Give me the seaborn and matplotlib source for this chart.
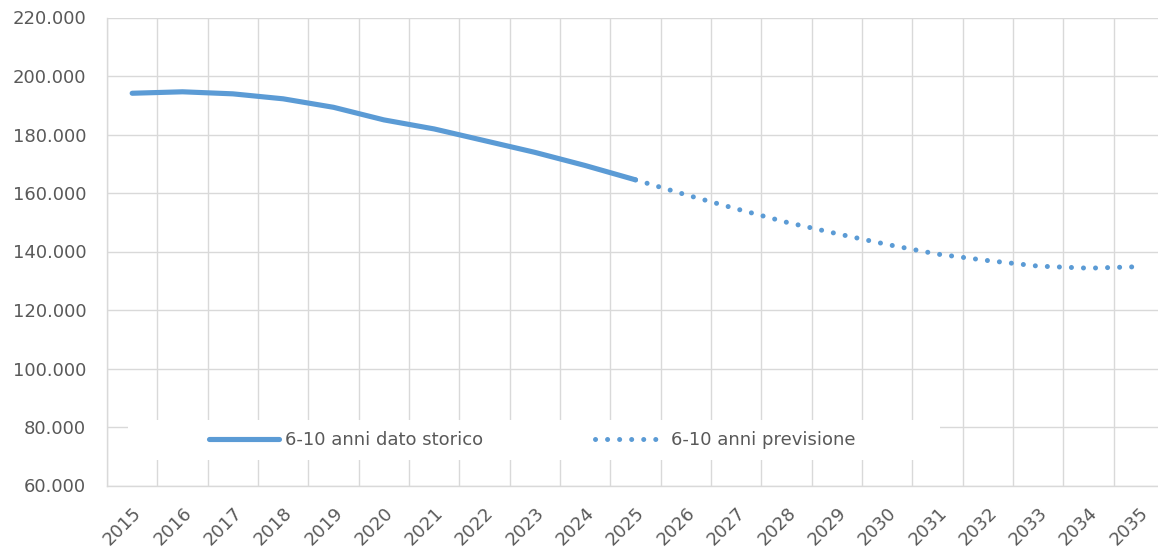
import matplotlib
matplotlib.use("Agg")
import matplotlib.pyplot as plt
import numpy as np
import pandas as pd
import seaborn as sns
from matplotlib.patches import Rectangle
from matplotlib.ticker import FixedLocator, FuncFormatter

# values
years_storico = [2015, 2016, 2017, 2018, 2019, 2020, 2021, 2022, 2023, 2024, 2025]
storico = [194100, 194600, 193900, 192200, 189300, 185000, 181900, 177900, 173900, 169400, 164500]
years_previsione = [2025, 2026, 2027, 2028, 2029, 2030, 2031, 2032, 2033, 2034, 2035]
previsione = [164500, 159400, 154600, 150000, 146100, 142400, 139100, 136900, 135000, 134300, 134800]
label_storico = "6-10 anni dato storico"
label_previsione = "6-10 anni previsione"
y_ticks = [60000, 80000, 100000, 120000, 140000, 160000, 180000, 200000, 220000]

BLUE = "#5B9BD5"
GRID = "#D9D9D9"
TEXT = "#595959"

sns.set_theme(style="white")
plt.rcParams["font.family"] = ["DejaVu Sans"]

fig = plt.figure(figsize=(11.58, 5.51), dpi=100)
W, H = 1158, 551
ax = fig.add_axes([107 / W, 1 - 485.5 / H, (1164 - 107) / W, (485.5 - 17.5) / H])

df_s = pd.DataFrame({"anno": years_storico, "valore": storico})
df_p = pd.DataFrame({"anno": years_previsione, "valore": previsione})

sns.lineplot(data=df_s, x="anno", y="valore", ax=ax, color=BLUE, linewidth=3.7,
             solid_capstyle="round", label=label_storico, zorder=4)
sns.lineplot(data=df_p, x="anno", y="valore", ax=ax, color=BLUE, linewidth=3.6,
             label=label_previsione, zorder=4)
dotted = ax.lines[-1]
dotted.set_linestyle((0, (0.01, 2.4)))
dotted.set_dash_capstyle("round")

all_years = list(range(years_storico[0], years_previsione[-1] + 1))
ax.set_xlim(all_years[0] - 0.5, all_years[-1] + 0.5)
ax.set_ylim(y_ticks[0], y_ticks[-1])
ax.set_yticks(y_ticks)
ax.yaxis.set_major_formatter(FuncFormatter(lambda v, p: f"{v:,.0f}".replace(",", ".")))
ax.set_xticks(all_years)
ax.set_xticklabels([str(y) for y in all_years], rotation=45, ha="right",
                   rotation_mode="anchor")
ax.xaxis.set_minor_locator(FixedLocator([y - 0.5 for y in all_years] + [all_years[-1] + 0.5]))

ax.grid(False)
ax.grid(True, which="minor", axis="x", color=GRID, linewidth=1.0, zorder=0)
ax.grid(True, which="major", axis="y", color=GRID, linewidth=1.0, zorder=0)
ax.set_axisbelow(True)

ax.tick_params(axis="both", which="both", length=0, labelsize=13, labelcolor=TEXT)
ax.tick_params(axis="y", pad=15)
ax.tick_params(axis="x", pad=13)
ax.set_xlabel("")
ax.set_ylabel("")

for side in ["top", "right"]:
    ax.spines[side].set_visible(False)
for side in ["left", "bottom"]:
    ax.spines[side].set_color(GRID)
    ax.spines[side].set_linewidth(1.0)

# white legend box that hides the gridlines behind it
x0 = (128 - 107) / 1057
x1 = (940 - 107) / 1057
y0 = (485.5 - 460) / 468
y1 = (485.5 - 420) / 468
ax.add_patch(Rectangle((x0, y0), x1 - x0, y1 - y0, transform=ax.transAxes,
                       facecolor="white", edgecolor="none", zorder=2.5))

leg = ax.legend(loc="center left", bbox_to_anchor=((209 - 107) / 1057, (y0 + y1) / 2),
                ncol=2, frameon=False, fontsize=13, handlelength=3.9,
                handletextpad=0.3, columnspacing=6.2, borderpad=0, borderaxespad=0)
for t in leg.get_texts():
    t.set_color(TEXT)
leg.set_zorder(5)

fig.savefig("out.png", dpi=100)
